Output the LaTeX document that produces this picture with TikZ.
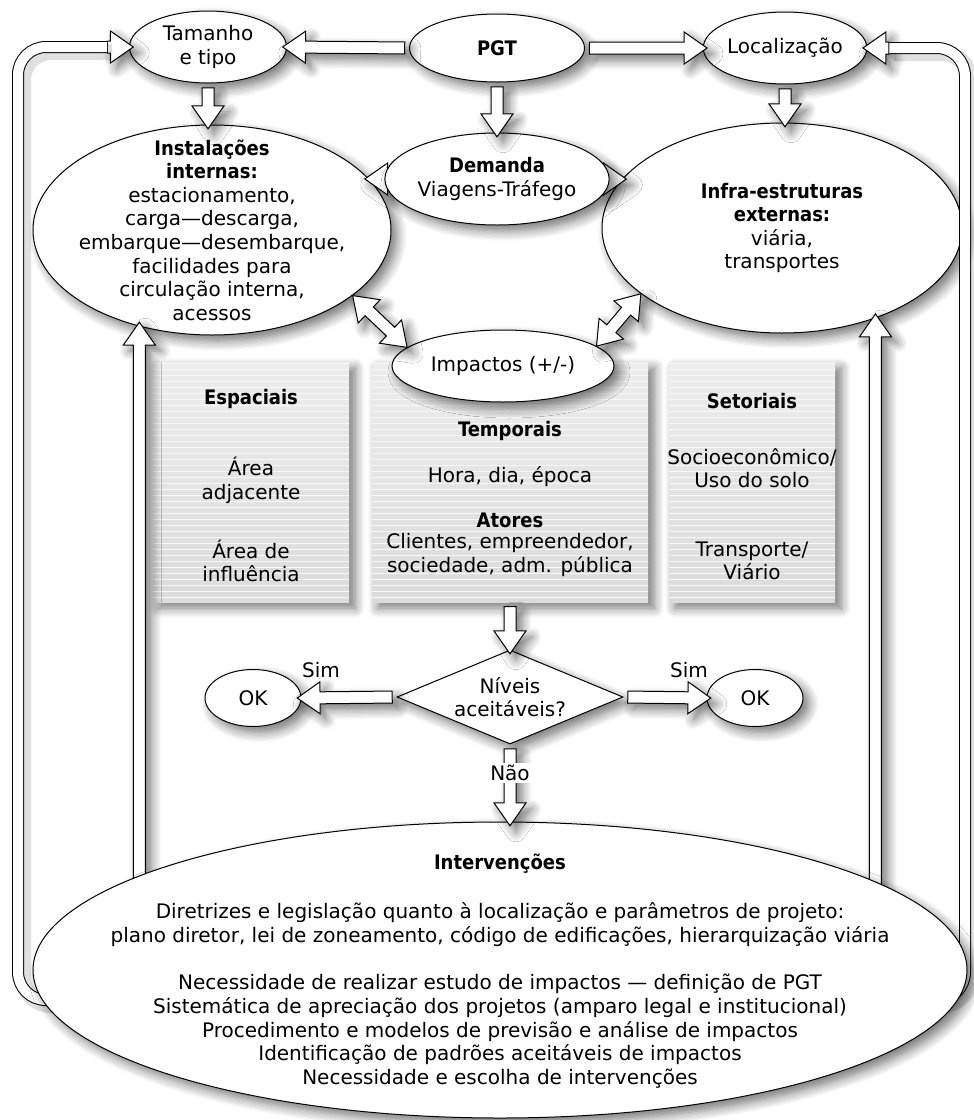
\documentclass[tikz,border=0pt]{standalone}
\usepackage{fontspec}
\setmainfont{DejaVu Sans}[BoldFont={DejaVu Sans Condensed Bold}]
\usetikzlibrary{shapes.geometric,shapes.arrows,calc,shadows.blur,patterns}

\tikzset{
  every node/.style={font=\fontsize{10}{11.8}\selectfont, align=center},
  shd/.style={blur shadow={shadow xshift=3pt, shadow yshift=-3pt,
      shadow blur steps=8, shadow blur radius=5pt, shadow opacity=55}},
  ell/.style={ellipse, draw, line width=0.5pt, fill=white, inner sep=0pt, shd},
  box/.style={rectangle, top color=black!7, bottom color=black!14, shd,
      postaction={pattern=horizontal lines, pattern color=black!3}},
  fatarr/.style={single arrow, draw, line width=0.5pt, fill=white,
      inner xsep=0pt, inner ysep=2.75pt, single arrow head extend=5pt,
      single arrow tip angle=70, shd},
  twoarr/.style={double arrow, draw, line width=0.5pt, fill=white,
      inner xsep=0pt, inner ysep=2.75pt, double arrow head extend=5pt,
      double arrow tip angle=70, shd},
  pipe/.style={line width=0.5pt, double=white, double distance=5pt,
      rounded corners=14pt,
      preaction={draw, black, opacity=0.12, line width=8pt,
          transform canvas={xshift=2.5pt, yshift=-2.5pt}}}
}

% block arrow from #2 to #3
\newcommand\fatarrow[3][fatarr]{%
  \path let \p1=(#2), \p2=(#3),
    \n1={veclen(\x2-\x1,\y2-\y1)}, \n2={atan2(\y2-\y1,\x2-\x1)} in
    ($(\p1)!0.5!(\p2)$) node[#1, minimum height=\n1, rotate=\n2] {};}

\begin{document}
\begin{tikzpicture}[x=0.5pt, y=-0.5pt]
    \useasboundingbox (0,0) rectangle (974,1120);
    \coordinate (ivc) at (500,970);
    \coordinate (demc) at (497,179);

    % impact boxes
    \node[box, minimum width=98pt, minimum height=120pt] (esp) at (251,482) {};
    \node[box, minimum width=138pt, minimum height=120pt] (temp) at (510,482) {};
    \node[box, minimum width=83pt, minimum height=120pt] (set) at (752,482) {};
    \node (espa) at (251,399) {\textbf{Espaciais}};
    \node (espb) at (251,480) {Área\\adjacente};
    \node (espc) at (251,561) {Área de\\influência};
    \node (tempa) at (510,431) {\textbf{Temporais}};
    \node (tempb) at (510,477) {Hora, dia, época};
    \node (tempc) at (510,520) {\textbf{Atores}};
    \node (tempd) at (510,555) {Clientes, empreendedor,\\sociedade, adm. pública};
    \node (seta) at (752,401) {\textbf{Setoriais}};
    \node (setb) at (752,468) {Socioeconômico/\\Uso do solo};
    \node (setc) at (752,561) {Transporte/\\Viário};

    % ellipses
    \node[ell, minimum width=78.5pt, minimum height=36pt] (tam) at (208,47) {Tamanho\\e tipo};
    \node[ell, minimum width=87.5pt, minimum height=34pt] (pgt) at (497,48) {\textbf{PGT}};
    \node[ell, minimum width=78.5pt, minimum height=36pt] (loc) at (785,48) {Localização};
    \node[ell, minimum width=179pt, minimum height=105pt] (inst) at (212,230) {};
    \node (insttxt) at (inst) {\textbf{Instalações}\\\textbf{internas:}\\estacionamento,\\carga—descarga,\\embarque—desembarque,\\facilidades para\\circulação interna,\\acessos};
    \node[ell, minimum width=180pt, minimum height=105pt] (infra) at (782,228) {};
    \node (infratxt) at (infra) {\textbf{Infra-estruturas}\\\textbf{externas:}\\viária,\\transportes};
    \fatarrow{demc}{inst.18}
    \fatarrow{demc}{infra.163}
    \node[ell, minimum width=97pt, minimum height=46pt] (dem) at (demc) {\textbf{Demanda}\\Viagens-Tráfego};
    \node[ell, minimum width=111pt, minimum height=36pt] (imp) at (503,366) {Impactos (+/-)};

    % decision
    \node[diamond, draw, line width=0.5pt, fill=white, aspect=2.4, inner sep=0pt,
          minimum width=113pt, minimum height=47pt, shd] (niv) at (510,697) {Níveis\\aceitáveis?};
    \node[ell, minimum width=48pt, minimum height=28.5pt] (okl) at (253,698) {OK};
    \node[ell, minimum width=48pt, minimum height=28.5pt] (okr) at (755,698) {OK};
    \node (siml) at (321,670) {Sim};
    \node (simr) at (689,670) {Sim};

    % connectors
    \fatarrow{pgt.west}{tam.east}
    \fatarrow{pgt.east}{loc.west}
    \fatarrow{pgt.south}{dem.north}
    \fatarrow{tam.south}{tam.south |- inst.north}
    \fatarrow{loc.south}{loc.south |- infra.north}
    \fatarrow[twoarr]{inst.-25}{imp.169}
    \fatarrow[twoarr]{infra.205.7}{imp.12}
    \fatarrow{temp.south}{niv.north}
    \fatarrow{niv.west}{okl.east}
    \fatarrow{niv.east}{okr.west}
    \fatarrow{inst.233 |- ivc}{inst.233}
    \fatarrow{infra.-44 |- ivc}{infra.-44}

    % loops back to the top
    \coordinate (lpipe) at (18,1000);
    \coordinate (rpipe) at (965,1000);
    \fatarrow{[xshift=-13pt]tam.west}{tam.west}
    \fatarrow{[xshift=13pt]loc.east}{loc.east}
    \draw[pipe] (73,1000) -- (lpipe) -- (lpipe |- tam.west) -- ([xshift=-11pt]tam.west);
    \draw[pipe] (925,1000) -- (rpipe) -- (rpipe |- loc.east) -- ([xshift=11pt]loc.east);

    % interventions
    \node[ell, minimum width=467pt, minimum height=148pt] (interv) at (ivc) {};
    \node (intervtxt) at (500,971) {\textbf{Intervenções}\\[12.9pt]
        Diretrizes e legislação quanto à localização e parâmetros de projeto:\\
        plano diretor, lei de zoneamento, código de edificações, hierarquização viária\\[11.9pt]
        Necessidade de realizar estudo de impactos — definição de PGT\\
        Sistemática de apreciação dos projetos (amparo legal e institucional)\\
        Procedimento e modelos de previsão e análise de impactos\\
        Identificação de padrões aceitáveis de impactos\\
        Necessidade e escolha de intervenções};
    \fatarrow{niv.south}{niv.south |- interv.north}
    \node[fill=white, inner sep=1pt] (nao) at (510,773) {Não};
\end{tikzpicture}
\end{document}
